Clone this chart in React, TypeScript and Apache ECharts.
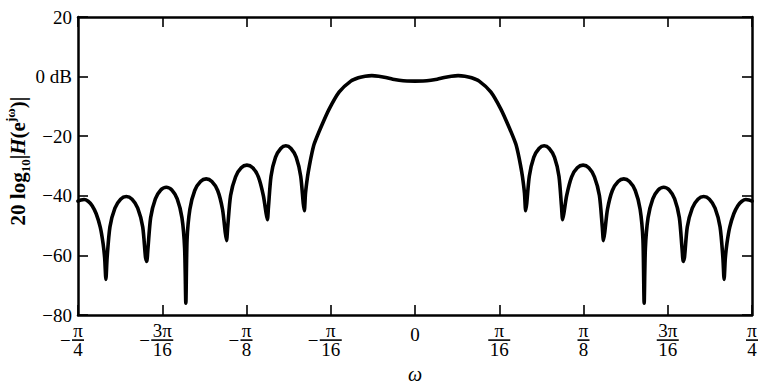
import React, { useEffect, useRef } from "react";
import * as echarts from "echarts";

// Frequency (in units of pi) and magnitude (dB)
const omegaOverPi: number[] = [
  -0.25, -0.2478, -0.2455, -0.2425, -0.2395, -0.2365, -0.2335, -0.2314, -0.2302, -0.2293,
  -0.2284, -0.2263, -0.2226, -0.2184, -0.2142, -0.2099, -0.2057, -0.202, -0.1999, -0.199,
  -0.1981, -0.1961, -0.1926, -0.1886, -0.1845, -0.1804, -0.1764, -0.1729, -0.1709, -0.17,
  -0.1691, -0.167, -0.1634, -0.1591, -0.1549, -0.1507, -0.1464, -0.1428, -0.1407, -0.1398,
  -0.1389, -0.1368, -0.1331, -0.1289, -0.1247, -0.1204, -0.1162, -0.1125, -0.1104, -0.1095,
  -0.1087, -0.1068, -0.1035, -0.0996, -0.0958, -0.092, -0.0881, -0.0848, -0.0829, -0.0821,
  -0.0812, -0.0797, -0.0784, -0.0764, -0.0747, -0.0697, -0.0636, -0.0562, -0.0476, -0.042,
  -0.037, -0.032, -0.027, -0.0217, -0.0165, -0.0118, -0.006, 0,
  0.006, 0.0118, 0.0165, 0.0217, 0.027, 0.032, 0.037, 0.042, 0.0476, 0.0562,
  0.0636, 0.0697, 0.0747, 0.0764, 0.0784, 0.0797, 0.0812, 0.0821,
  0.0829, 0.0848, 0.0881, 0.092, 0.0958, 0.0996, 0.1035, 0.1068, 0.1087, 0.1095,
  0.1104, 0.1125, 0.1162, 0.1204, 0.1247, 0.1289, 0.1331, 0.1368, 0.1389, 0.1398,
  0.1407, 0.1428, 0.1464, 0.1507, 0.1549, 0.1591, 0.1634, 0.167, 0.1691, 0.17,
  0.1709, 0.1729, 0.1764, 0.1804, 0.1845, 0.1886, 0.1926, 0.1961, 0.1981, 0.199,
  0.1999, 0.202, 0.2057, 0.2099, 0.2142, 0.2184, 0.2226, 0.2263, 0.2284, 0.2293,
  0.2302, 0.2314, 0.2335, 0.2365, 0.2395, 0.2425, 0.2455, 0.2478, 0.25,
];

const magnitudeDb: number[] = [
  -41.8, -41.4, -41.2, -41.8, -43.3, -46.0, -50.5, -56.0, -61.0, -68.0,
  -60.7, -50.4, -44.1, -41.1, -40.2, -41.1, -44.1, -50.4, -60.7, -62.0,
  -57.6, -47.3, -41.0, -38.0, -37.1, -38.0, -41.0, -47.3, -57.6, -76.0,
  -54.8, -44.5, -38.2, -35.2, -34.3, -35.2, -38.2, -44.5, -52.5, -55.0,
  -50.2, -39.9, -33.6, -30.6, -29.7, -30.6, -33.6, -39.9, -46.0, -48.0,
  -43.7, -33.4, -27.1, -24.1, -23.2, -24.1, -27.1, -33.4, -42.5, -45.0,
  -39.0, -33.5, -30.0, -25.5, -22.5, -16.9, -10.8, -5.1, -1.5, -0.4,
  0.15, 0.35, 0.15, -0.3, -0.85, -1.2, -1.45, -1.5,
  -1.45, -1.2, -0.85, -0.3, 0.15, 0.35, 0.15, -0.4, -1.5, -5.1,
  -10.8, -16.9, -22.5, -25.5, -30.0, -33.5, -39.0, -45.0,
  -42.5, -33.4, -27.1, -24.1, -23.2, -24.1, -27.1, -33.4, -43.7, -48.0,
  -46.0, -39.9, -33.6, -30.6, -29.7, -30.6, -33.6, -39.9, -50.2, -55.0,
  -52.5, -44.5, -38.2, -35.2, -34.3, -35.2, -38.2, -44.5, -54.8, -76.0,
  -57.6, -47.3, -41.0, -38.0, -37.1, -38.0, -41.0, -47.3, -57.6, -62.0,
  -60.7, -50.4, -44.1, -41.1, -40.2, -41.1, -44.1, -50.4, -60.7, -68.0,
  -61.0, -56.0, -50.5, -46.0, -43.3, -41.8, -41.2, -41.4, -41.8,
];

const xTickValues = [-0.25, -0.1875, -0.125, -0.0625, 0, 0.0625, 0.125, 0.1875, 0.25];
const xTickSigns = ["−", "−", "−", "−", "", "", "", "", ""];
const xTickNumerators = ["π", "3π", "π", "π", "0", "π", "π", "3π", "π"];
const xTickDenominators = ["4", "16", "8", "16", "", "16", "8", "16", "4"];

const yTickValues = [-80, -60, -40, -20, 0, 20];
const yTickLabels = ["−80", "−60", "−40", "−20", "0 dB", "20"];

const FONT = '"Liberation Serif", "Times New Roman", serif';

function xLabel(v: number): string {
  const i = xTickValues.findIndex((t) => Math.abs(t - v) < 1e-9);
  if (i < 0) return "";
  const num = xTickNumerators[i];
  const den = xTickDenominators[i];
  const sign = xTickSigns[i];
  if (!den) return `{zero|${num}}`;
  const w = num.length > 1 || den.length > 1 ? "W" : "";
  if (sign) {
    return `{pad| }{n${w}|${num}}{pad| }\n{m|${sign}}{bar${w}| }{pad| }\n{pad| }{d${w}|${den}}{pad| }`;
  }
  return `{n${w}|${num}}\n{bar${w}| }\n{d${w}|${den}}`;
}

function yLabel(v: number): string {
  const i = yTickValues.findIndex((t) => Math.abs(t - v) < 1e-9);
  return i < 0 ? "" : yTickLabels[i];
}

const frac = { fontFamily: FONT, fontSize: 19, color: "#000", align: "center", lineHeight: 15 };

export default function App() {
  const ref = useRef<HTMLDivElement>(null);
  useEffect(() => {
    if (!ref.current) return;
    const chart = echarts.init(ref.current, null, { renderer: "svg" });
    const axisLine = { show: true, onZero: false, lineStyle: { color: "#000", width: 2.5 } };
    const axisTick = { show: true, inside: true, length: 10, lineStyle: { color: "#000", width: 1.6 } };
    chart.setOption({
      animation: false,
      backgroundColor: "#fff",
      grid: { left: 78, right: 7, top: 17, bottom: 48, containLabel: false },
      xAxis: [
        {
          type: "value",
          position: "bottom",
          min: -0.25,
          max: 0.25,
          interval: 0.0625,
          axisLine,
          axisTick,
          splitLine: { show: false },
          axisLabel: {
            show: true,
            margin: 8,
            showMinLabel: true,
            showMaxLabel: true,
            formatter: xLabel,
            rich: {
              n: { ...frac, width: 12 },
              nW: { ...frac, width: 22 },
              d: { ...frac, width: 12 },
              dW: { ...frac, width: 22 },
              bar: { width: 12, height: 1.6, lineHeight: 4, backgroundColor: "#000", fontSize: 1 },
              barW: { width: 22, height: 1.6, lineHeight: 4, backgroundColor: "#000", fontSize: 1 },
              m: { fontFamily: FONT, fontSize: 19, color: "#000", width: 12, lineHeight: 4, align: "left" },
              pad: { width: 12, fontSize: 1, lineHeight: 4 },
              zero: { fontFamily: FONT, fontSize: 19, color: "#000", lineHeight: 22 },
            },
          },
          name: "ω",
          nameLocation: "middle",
          nameGap: 32,
          nameTextStyle: { fontFamily: FONT, fontStyle: "italic", fontSize: 20, color: "#000" },
        },
        {
          type: "value",
          position: "top",
          min: -0.25,
          max: 0.25,
          interval: 0.0625,
          axisLine,
          axisTick,
          axisLabel: { show: false },
          splitLine: { show: false },
        },
      ],
      yAxis: [
        {
          type: "value",
          position: "left",
          min: -80,
          max: 20,
          interval: 20,
          axisLine,
          axisTick,
          splitLine: { show: false },
          axisLabel: {
            margin: 6,
            formatter: yLabel,
            fontFamily: FONT,
            fontSize: 19,
            color: "#000",
            showMinLabel: true,
            showMaxLabel: true,
          },
        },
        {
          type: "value",
          position: "right",
          min: -80,
          max: 20,
          interval: 20,
          axisLine,
          axisTick,
          axisLabel: { show: false },
          splitLine: { show: false },
        },
      ],
      graphic: [
        {
          type: "text",
          x: 18,
          y: 161,
          rotation: Math.PI / 2,
          style: {
            text: "{a|20 log}{s|10}{a||}{i|H}{a|(e}{p|jω}{a|)|}",
            align: "center",
            verticalAlign: "middle",
            fill: "#000",
            rich: {
              a: { fontFamily: FONT, fontSize: 21, fontWeight: "bold", fill: "#000", lineHeight: 28 },
              i: { fontFamily: FONT, fontSize: 21, fontWeight: "bold", fontStyle: "italic", fill: "#000", lineHeight: 28 },
              s: { fontFamily: FONT, fontSize: 13, fontWeight: "bold", fill: "#000", lineHeight: 13, verticalAlign: "bottom" },
              p: { fontFamily: FONT, fontSize: 13, fontWeight: "bold", fill: "#000", lineHeight: 13, verticalAlign: "top" },
            },
          },
        },
      ],
      series: [
        {
          type: "line",
          xAxisIndex: 0,
          yAxisIndex: 0,
          data: omegaOverPi.map((w, i) => [w, magnitudeDb[i]]),
          showSymbol: false,
          smooth: 0.25,
          lineStyle: { color: "#000", width: 3.6, join: "round", cap: "round" },
        },
      ],
    });
    return () => chart.dispose();
  }, []);
  return (
    <div
      ref={ref}
      style={{ position: "fixed", left: 0, top: 0, width: 761, height: 389, background: "#fff" }}
    />
  );
}
